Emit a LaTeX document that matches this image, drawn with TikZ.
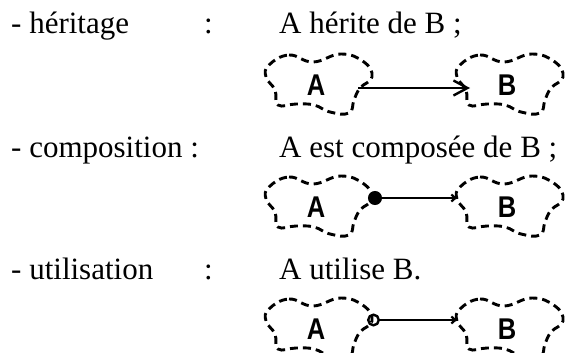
\documentclass[tikz,border=0pt]{standalone}
\usepackage{fontspec}
\setmainfont{Liberation Serif}
\newfontfamily\classfont[FakeStretch=0.85]{Liberation Sans}
\usetikzlibrary{arrows.meta}

\begin{document}
\begin{tikzpicture}[
  x=1pt, y=-1pt,
  font=\fontsize{31}{36}\selectfont,
  term/.style      = {anchor=base west, inner sep=0pt},
  cls/.style       = {font=\classfont\bfseries\fontsize{30}{32}\selectfont, inner sep=0pt},
  cloudline/.style = {draw=black, line width=2.9pt, dash pattern=on 8pt off 5pt},
  blob/.pic        = {\draw[cloudline] plot[smooth cycle, tension=0.75] coordinates
                       {(-47,-20) (-27,-30) (-3,-23) (25,-31) (48,-23) (56,-8) (44,3)
                        (38,15) (33,28) (14,27) (-2,20) (-20,19) (-38,20) (-41,5) (-50,-8)};},
  link/.style      = {draw=black, line width=2.2pt},
  inh/.style       = {link, -{Straight Barb[length=14pt,width=15pt,line width=2.4pt]}},
  comp/.style      = {link, {Circle[length=14pt]}-{Straight Barb[length=4pt,width=7pt]}},
  usage/.style     = {link, {Circle[open,length=13pt,line width=2.4pt]}-{Straight Barb[length=4pt,width=7pt]}},
]
\useasboundingbox (0,0) rectangle (565,353);

% ---------- relation names ----------
\node[term] (her)  at (11,34)  {- héritage};
\node[term] (col1) at (204,34) {:};
\node[term] (txt1) at (279,34) {A hérite de B ;};

\node[term] (comp) at (11,157)  {- composition :};
\node[term] (txt2) at (279,157) {A est composée de B ;};

\node[term] (uti)  at (11,279)  {- utilisation};
\node[term] (col3) at (204,279) {:};
\node[term] (txt3) at (279,279) {A utilise B.};

% ---------- classes ----------
\node[cls] (A1) at (316,85)  {A};
\node[cls] (B1) at (507,85)  {B};
\node[cls] (A2) at (316,207) {A};
\node[cls] (B2) at (507,207) {B};
\node[cls] (A3) at (316,329) {A};
\node[cls] (B3) at (507,329) {B};

\pic at (A1.center) {blob};
\pic at (B1.center) {blob};
\pic at (A2.center) {blob};
\pic at (B2.center) {blob};
\pic at (A3.center) {blob};
\pic at (B3.center) {blob};

% ---------- relations ----------
\draw[inh]   ([shift={(42,3)}]A1.center)   -- ([shift={(-37,3)}]B1.center);
\draw[comp]  ([shift={(52,-9)}]A2.center)  -- ([shift={(-50,-9)}]B2.center);
\draw[usage] ([shift={(51,-9)}]A3.center)  -- ([shift={(-50,-9)}]B3.center);

\end{tikzpicture}
\end{document}
